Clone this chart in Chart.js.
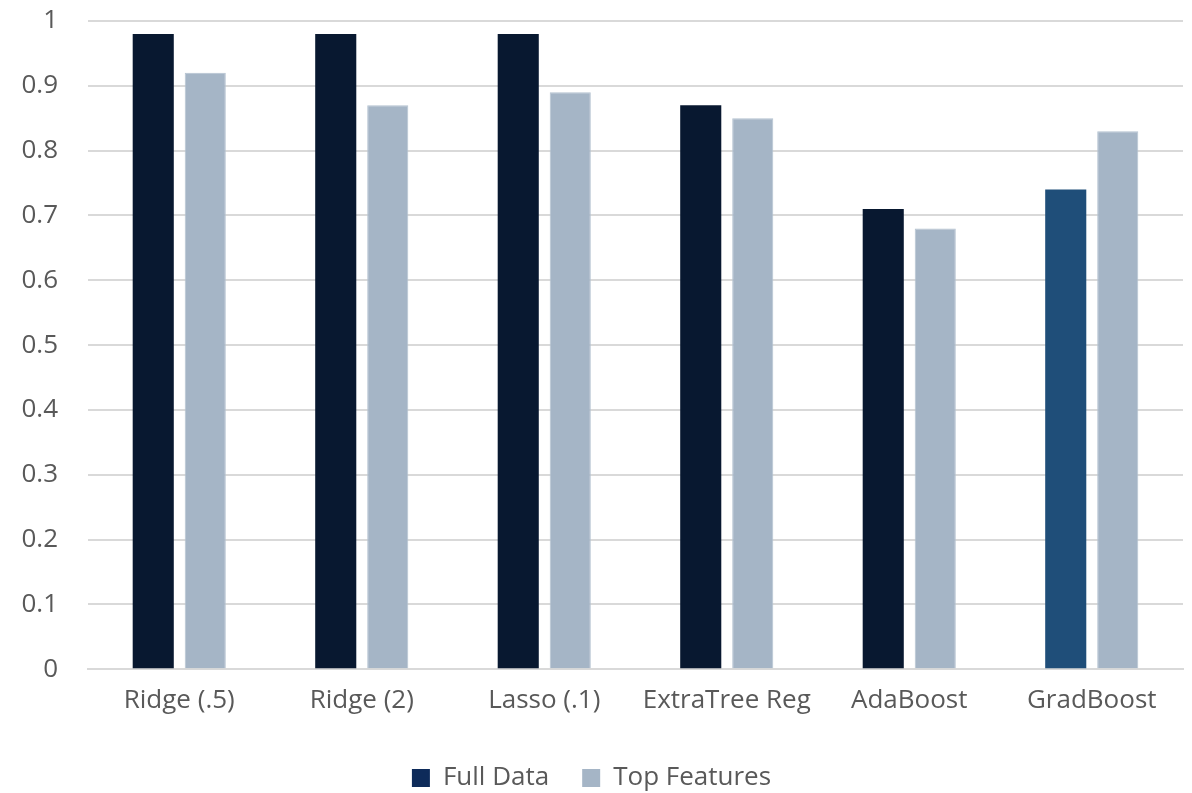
<!DOCTYPE html>
<html>
<head>
<meta charset="utf-8">
<script src="https://cdn.jsdelivr.net/npm/chart.js@4/dist/chart.umd.min.js"></script>
<style>
  html, body { margin: 0; padding: 0; background: #ffffff; }
  #wrap { width: 1192px; height: 793px; position: relative; }
</style>
</head>
<body>
<div id="wrap"><canvas id="c" width="1192" height="793"></canvas></div>
<script>
const models = ["Ridge (.5)", "Ridge (2)", "Lasso (.1)", "ExtraTree Reg", "AdaBoost", "GradBoost"];
const fullData = [0.98, 0.98, 0.98, 0.87, 0.71, 0.74];
const topFeatures = [0.92, 0.87, 0.89, 0.85, 0.68, 0.83];
const yTicks = [0, 0.1, 0.2, 0.3, 0.4, 0.5, 0.6, 0.7, 0.8, 0.9, 1];

const fullColors = ["#081830", "#081830", "#081830", "#081830", "#081830", "#1F4E79"];
const fontFamily = "'Open Sans', 'Liberation Sans', sans-serif";

new Chart(document.getElementById("c"), {
  type: "bar",
  data: {
    labels: models,
    datasets: [
      {
        label: "Full Data",
        data: fullData,
        backgroundColor: fullColors,
        borderWidth: 0,
        categoryPercentage: 0.57,
        barPercentage: 0.79
      },
      {
        label: "Top Features",
        data: topFeatures,
        backgroundColor: "#A5B5C6",
        borderColor: "#B4C2D0",
        borderWidth: 1,
        categoryPercentage: 0.57,
        barPercentage: 0.79
      }
    ]
  },
  options: {
    responsive: false,
    animation: false,
    layout: { padding: { left: 0, right: 9, top: 21, bottom: -8 } },
    plugins: {
      tooltip: { enabled: false },
      legend: {
        position: "bottom",
        labels: {
          font: { family: fontFamily, size: 26 },
          color: "#595959",
          boxWidth: 18,
          boxHeight: 18,
          padding: 33,
          generateLabels: (chart) => [
            { text: "Full Data", fillStyle: "#0E2B5A", strokeStyle: "#0E2B5A", lineWidth: 0, datasetIndex: 0, fontColor: "#595959" },
            { text: "Top Features", fillStyle: "#A5B5C6", strokeStyle: "#A5B5C6", lineWidth: 0, datasetIndex: 1, fontColor: "#595959" }
          ]
        }
      }
    },
    scales: {
      x: {
        grid: { display: false, drawTicks: false },
        border: { display: true, color: "#D9D9D9", width: 2 },
        ticks: {
          font: { family: fontFamily, size: 26, lineHeight: 0.95 },
          color: "#595959",
          padding: 19,
          maxRotation: 0
        }
      },
      y: {
        min: 0,
        max: 1,
        afterBuildTicks: (axis) => { axis.ticks = yTicks.map(v => ({ value: v })); },
        afterFit: (axis) => { axis.width = 88; },
        grid: { color: "#D9D9D9", lineWidth: 2, drawTicks: true, tickLength: 30, tickColor: "rgba(0,0,0,0)" },
        border: { display: false },
        ticks: {
          font: { family: fontFamily, size: 26 },
          color: "#595959",
          padding: 0,
          callback: (v) => String(v)
        }
      }
    }
  }
});
</script>
</body>
</html>
